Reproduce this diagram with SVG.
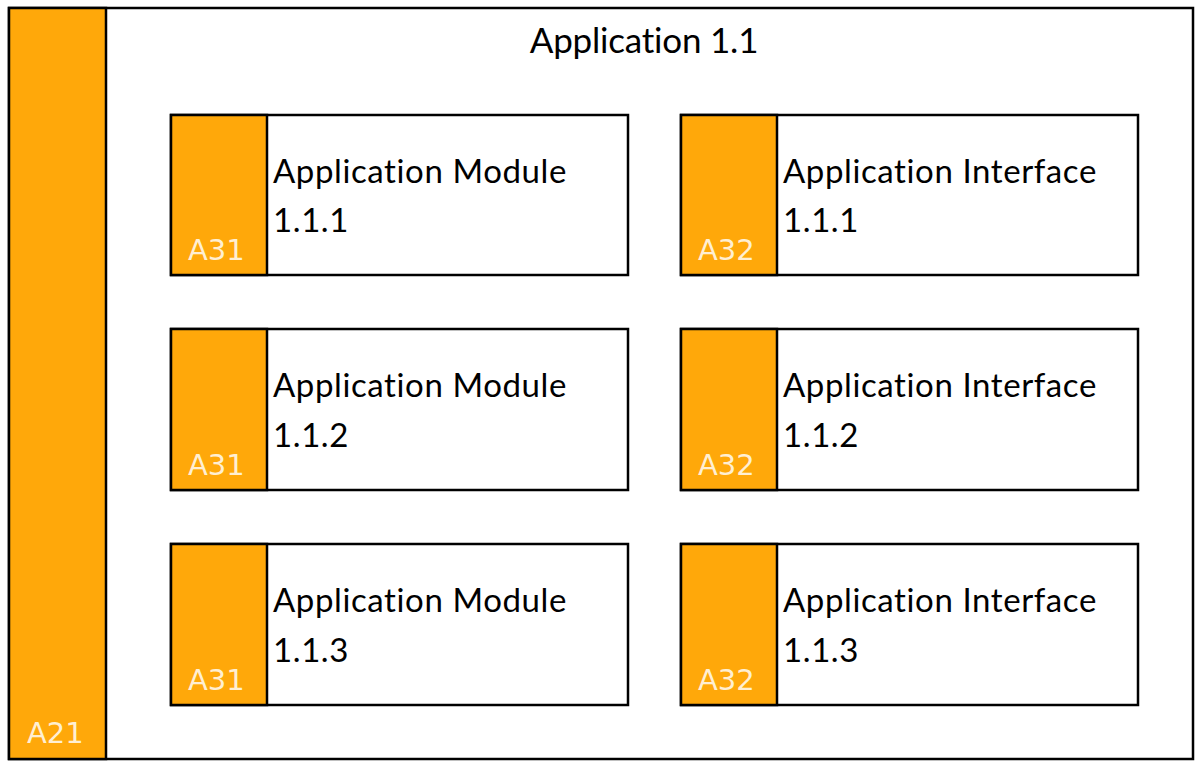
<svg xmlns="http://www.w3.org/2000/svg" width="1200" height="768" viewBox="0 0 1200 768">
<style>
.box{fill:#fff;stroke:#000;stroke-width:2.5}
.bar{fill:#FFA80A;stroke:#000;stroke-width:2.5}
.lbl{font-family:Lato,"Liberation Sans",sans-serif;font-size:33px;fill:#000;letter-spacing:0.6px}
.ttl{font-family:Lato,"Liberation Sans",sans-serif;font-size:35px;fill:#000;letter-spacing:-0.2px}
.tag{font-family:"DejaVu Sans",sans-serif;font-size:29px;fill:#FFEFD2}
</style>
<rect width="1200" height="768" fill="#fff"/>
<g id="app11">
<rect class="box" x="9" y="8" width="1184" height="751"/>
<rect class="bar" x="9" y="8" width="97" height="751"/>
<text class="tag" x="27" y="743">A21</text>
<text class="ttl" x="644" y="53" text-anchor="middle">Application 1.1</text>
</g>
<g id="mod111">
<rect class="box" x="171" y="115" width="457" height="160"/>
<rect class="bar" x="171" y="115" width="96" height="160"/>
<text class="tag" x="188" y="260">A31</text>
<text class="lbl" x="273" y="183">Application Module</text>
<text class="lbl" x="273" y="232">1.1.1</text>
</g>
<g id="mod112">
<rect class="box" x="171" y="329" width="457" height="161"/>
<rect class="bar" x="171" y="329" width="96" height="161"/>
<text class="tag" x="188" y="475">A31</text>
<text class="lbl" x="273" y="397">Application Module</text>
<text class="lbl" x="273" y="447">1.1.2</text>
</g>
<g id="mod113">
<rect class="box" x="171" y="544" width="457" height="161"/>
<rect class="bar" x="171" y="544" width="96" height="161"/>
<text class="tag" x="188" y="690">A31</text>
<text class="lbl" x="273" y="612">Application Module</text>
<text class="lbl" x="273" y="662">1.1.3</text>
</g>
<g id="if111">
<rect class="box" x="681" y="115" width="457" height="160"/>
<rect class="bar" x="681" y="115" width="96" height="160"/>
<text class="tag" x="698" y="260">A32</text>
<text class="lbl" x="783" y="183">Application Interface</text>
<text class="lbl" x="783" y="232">1.1.1</text>
</g>
<g id="if112">
<rect class="box" x="681" y="329" width="457" height="161"/>
<rect class="bar" x="681" y="329" width="96" height="161"/>
<text class="tag" x="698" y="475">A32</text>
<text class="lbl" x="783" y="397">Application Interface</text>
<text class="lbl" x="783" y="447">1.1.2</text>
</g>
<g id="if113">
<rect class="box" x="681" y="544" width="457" height="161"/>
<rect class="bar" x="681" y="544" width="96" height="161"/>
<text class="tag" x="698" y="690">A32</text>
<text class="lbl" x="783" y="612">Application Interface</text>
<text class="lbl" x="783" y="662">1.1.3</text>
</g>
<g id="connectors"></g>
</svg>
